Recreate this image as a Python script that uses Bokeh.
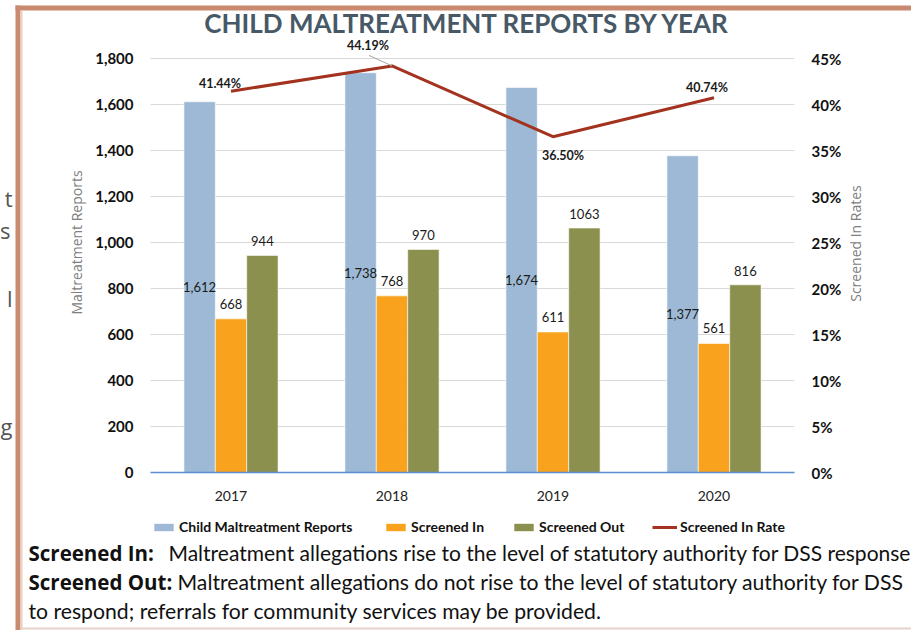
import math
from bokeh.plotting import figure
from bokeh.models import (ColumnDataSource, Range1d, LinearAxis, FixedTicker, Grid,
                          NumeralTickFormatter, PrintfTickFormatter, LabelSet, Label, Legend,
                          LegendItem, BoxAnnotation)
from bokeh.transform import dodge
from bokeh.embed import file_html
from bokeh.resources import INLINE
from bokeh.core.properties import value

# ---------------- data ----------------
years = ["2017", "2018", "2019", "2020"]
reports = [1612, 1738, 1674, 1377]
screened_in = [668, 768, 611, 561]
screened_out = [944, 970, 1063, 816]
rate_pct = [41.44, 44.19, 36.50, 40.74]

left_ticks = [0, 200, 400, 600, 800, 1000, 1200, 1400, 1600, 1800]
right_ticks = [0, 5, 10, 15, 20, 25, 30, 35, 40, 45]
series_names = ["Child Maltreatment Reports", "Screened In", "Screened Out", "Screened In Rate"]
title_text = "CHILD MALTREATMENT REPORTS BY YEAR"
left_axis_title = "Maltreatment Reports"
right_axis_title = "Screened In Rates"
note_bold = ["Screened In:", "Screened Out:"]
note_text = ["Maltreatment allegations rise to the level of statutory authority for DSS response",
             "Maltreatment allegations do not rise to the level of statutory authority for DSS",
             "to respond; referrals for community services may be provided."]
edge_fragments = ["t", "s", "l", "g"]  # word endings of a neighbouring column, cut by the page edge

# ---------------- layout / style ----------------
W, H = 911, 630
FONT = "Lato"
C_BLUE = "#9DB9D5"
C_ORANGE = "#F9A21D"
C_GREEN = "#8B904F"
C_LINE = "#A3321F"
C_TITLE = "#475866"
C_FRAME = "#C98A6F"
BAR_W = 0.195

# plot area in page pixels
PA_LEFT, PA_RIGHT, PA_BOTTOM, PA_TOP = 150, 794, 472, 58
n = len(years)
px_per_x = (PA_RIGHT - PA_LEFT) / n
px_per_y = (PA_BOTTOM - PA_TOP) / left_ticks[-1]
rate_scale = right_ticks[-1] / left_ticks[-1]

x_start = -PA_LEFT / px_per_x
x_end = (W - PA_LEFT) / px_per_x
y_start = -(H - PA_BOTTOM) / px_per_y
y_end = PA_BOTTOM / px_per_y

xpos = [i + 0.5 for i in range(n)]  # category centres on the numeric x scale

src = ColumnDataSource(dict(
    x=xpos,
    year=years,
    reports=reports,
    sin=screened_in,
    sout=screened_out,
    rate=rate_pct,
    reports_mid=[v / 2 for v in reports],
    reports_lbl=[f"{v:,}" for v in reports],
    sin_lbl=[str(v) for v in screened_in],
    sout_lbl=[str(v) for v in screened_out],
    rate_lbl=[f"{v:.2f}%" for v in rate_pct],
    rate_dx=[-11, -24, 10, -7],
    rate_dy=[8, 20, -19, 10],
))

p = figure(x_range=Range1d(x_start, x_end), y_range=Range1d(y_start, y_end),
           width=W, height=H, output_backend="svg", toolbar_location=None, min_border=0)
p.title.visible = False
p.extra_y_ranges = {"rate": Range1d(y_start * rate_scale, y_end * rate_scale)}
p.outline_line_color = None
p.background_fill_color = "white"
p.border_fill_color = "white"

r_rep = p.vbar(x=dodge("x", -BAR_W), top="reports", width=BAR_W, source=src,
               fill_color=C_BLUE, line_color="white", line_width=0.6)
r_in = p.vbar(x="x", top="sin", width=BAR_W, source=src,
              fill_color=C_ORANGE, line_color="white", line_width=0.6)
r_out = p.vbar(x=dodge("x", BAR_W), top="sout", width=BAR_W, source=src,
               fill_color=C_GREEN, line_color="white", line_width=0.6)
r_rate = p.line(x="x", y="rate", source=src, y_range_name="rate", line_color=C_LINE, line_width=3)

# grid
p.xgrid.visible = False
p.ygrid.ticker = FixedTicker(ticks=left_ticks[1:])
p.ygrid.grid_line_color = "#D9D9D9"
p.ygrid.grid_line_width = 1
if "cross_bounds" in Grid.properties():
    p.ygrid.cross_bounds = (0, n)

# x axis
xa = p.xaxis[0]
xa.fixed_location = 0
xa.bounds = (0, n)
xa.ticker = FixedTicker(ticks=xpos)
xa.major_label_overrides = {x: y for x, y in zip(xpos, years)}
xa.axis_line_color = "#5B8BD0"
xa.axis_line_width = 1.5
xa.major_tick_line_color = None
xa.minor_tick_line_color = None
xa.major_label_standoff = 12
xa.major_label_text_font = FONT
xa.major_label_text_font_size = "14px"
xa.major_label_text_color = "#222222"

# left axis
ya = p.yaxis[0]
ya.fixed_location = 0
ya.bounds = (0, left_ticks[-1])
ya.ticker = FixedTicker(ticks=left_ticks)
ya.formatter = NumeralTickFormatter(format="0,0")
ya.axis_line_color = None
ya.major_tick_line_color = None
ya.minor_tick_line_color = None
ya.major_label_standoff = 11
ya.major_label_text_font = FONT
ya.major_label_text_font_style = "bold"
ya.major_label_text_font_size = "15px"
ya.major_label_text_color = "#111111"

# right axis
ra = LinearAxis(y_range_name="rate", ticker=FixedTicker(ticks=right_ticks),
                formatter=PrintfTickFormatter(format="%d%%"), fixed_location=n,
                bounds=(0, right_ticks[-1]))
ra.axis_line_color = None
ra.major_tick_line_color = None
ra.minor_tick_line_color = None
ra.major_label_standoff = 11
ra.major_label_text_font = FONT
ra.major_label_text_font_style = "bold"
ra.major_label_text_font_size = "15px"
ra.major_label_text_color = "#111111"
p.add_layout(ra, "right")

# value labels
common = dict(source=src, text_font=value(FONT), text_font_size="13px", text_color="#1a1a1a",
              text_align="center", text_baseline="middle")
p.add_layout(LabelSet(x=dodge("x", -BAR_W), y="reports_mid", text="reports_lbl", **common))
p.add_layout(LabelSet(x="x", y="sin", text="sin_lbl", y_offset=15, **common))
p.add_layout(LabelSet(x=dodge("x", BAR_W), y="sout", text="sout_lbl", y_offset=14, **common))
rate_common = dict(common, text_font_size="12.5px")
p.add_layout(LabelSet(x="x", y="rate", y_range_name="rate", text="rate_lbl",
                      x_offset="rate_dx", y_offset="rate_dy", text_font_style="bold", **rate_common))

# leader line for the 2018 rate label
lead = ColumnDataSource(dict(x=[xpos[1]], y=[rate_pct[1]]))
p.segment(x0=dodge("x", -0.143), y0=dodge("y", 1.15), x1="x", y1="y",
          source=lead, y_range_name="rate", line_color="#A6A6A6", line_width=1)

# helpers: page pixels -> screen units (frame covers the whole canvas)
def sx(px): return px
def sy(py): return H - py

def label(px, py, text, **kw):
    args = dict(x=sx(px), y=sy(py), x_units="screen", y_units="screen", text=text,
                text_baseline="middle", text_font=FONT, text_color="#111111")
    args.update(kw)
    p.add_layout(Label(**args))

# title
label(467, 22, title_text, text_align="center", text_font_style="bold",
      text_font_size="26px", text_color=C_TITLE)

# axis titles
label(76, 242, left_axis_title, text_align="center", angle=math.pi / 2,
      text_font="Open Sans", text_font_size="14px", text_color="#808080")
label(855, 243, right_axis_title, text_align="center", angle=math.pi / 2,
      text_font="Open Sans", text_font_size="14px", text_color="#808080")

# legend
legend_pos = [151, 383, 511, 652]
for rend, name, lx in zip([r_rep, r_in, r_out, r_rate], series_names, legend_pos):
    lg = Legend(items=[LegendItem(label=name, renderers=[rend])], location=(sx(lx), sy(535)),
                orientation="horizontal", padding=0, margin=0, spacing=0,
                glyph_width=25, glyph_height=10, label_height=14, label_standoff=3,
                label_text_font=FONT, label_text_font_style="bold", label_text_font_size="14px",
                label_text_color="#111111", border_line_color=None, background_fill_alpha=0)
    p.add_layout(lg)

# footnotes
note_y = [552, 581, 610]
label(28, note_y[0], note_bold[0], text_font="Open Sans", text_font_style="bold", text_font_size="20.5px")
label(168, note_y[0], note_text[0], text_font_size="21px")
label(28, note_y[1], note_bold[1], text_font="Open Sans", text_font_style="bold", text_font_size="20.5px")
label(177, note_y[1], note_text[1], text_font_size="21.2px")
label(28, note_y[2], note_text[2], text_font_size="21.2px")

# fragments of a neighbouring text column at the left page edge
for txt, fx, fy in zip(edge_fragments, [12, 10, 12, 12], [197, 229, 297, 425]):
    label(fx, fy, txt, text_align="right", text_font="Open Sans", text_font_size="22px",
          text_color="#555555")

# decorative brown frame
for l, r, t, b, c in [(15, 20, 5, 630, C_FRAME), (15, 911, 5, 10, C_FRAME),
                      (20, 22, 10, 630, "#EBCFC2"), (20, 911, 627, 629, "#E6D3CA")]:
    p.add_layout(BoxAnnotation(left=sx(l), right=sx(r), top=sy(t), bottom=sy(b),
                               left_units="screen", right_units="screen",
                               top_units="screen", bottom_units="screen",
                               fill_color=c, fill_alpha=1, line_color=None, level="overlay"))

open("out.html", "w").write(file_html(p, INLINE))
